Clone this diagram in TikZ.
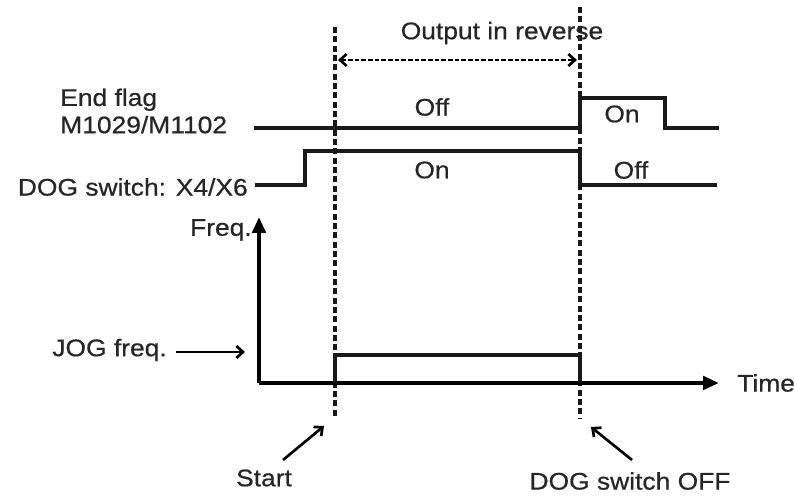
\documentclass[tikz,border=0pt]{standalone}
\usepackage{fontspec}
\setmainfont[FakeStretch=1.1,FakeBold=0.6]{Liberation Sans}
\usetikzlibrary{arrows.meta}
\begin{document}
\begin{tikzpicture}[x=0.75pt,y=-0.75pt,
  lbl/.style={inner sep=0pt,font=\fontsize{18}{20}\selectfont,text=black!85},
  sig/.style={line width=3pt,line join=miter,color=black!90},
  guide/.style={line width=2.6pt,dash pattern=on 4.5pt off 2.5pt,color=black!90},
  span/.style={line width=2pt,dash pattern=on 3.5pt off 1.5pt,{Straight Barb[length=5pt,width=9pt,line width=2pt]}-{Straight Barb[length=5pt,width=9pt,line width=2pt]}},
  ptr/.style={line width=2pt,-{Straight Barb[length=5pt,width=9pt,line width=2pt]}},
  axis/.style={line width=3pt,-{Triangle[length=12pt,width=10pt]}}]
\useasboundingbox (0,0) rectangle (794,498);

% guide lines
\coordinate (g1t) at (335,27); \coordinate (g1b) at (335,418);
\coordinate (g2t) at (580,7);  \coordinate (g2b) at (580,418);
\draw[guide] (g1t) -- (g1b);
\draw[guide] (g2t) -- (g2b);

% output in reverse
\node[lbl] (out) at (502,33) {Output in reverse};
\coordinate (sa) at (338,60); \coordinate (sb) at (577,60);
\draw[span] (sa) -- (sb);

% labels left
\node[lbl,anchor=west,align=left,font=\fontsize{18}{20.5}\selectfont] (endflag) at (60,111) {End flag\\M1029/M1102};
\node[lbl,anchor=east] (dogsw) at (248,187) {DOG switch: X4/X6};

% end flag waveform
\coordinate (e0) at (254,128); \coordinate (e1) at (580,128); \coordinate (e2) at (580,98);
\coordinate (e3) at (665,98); \coordinate (e4) at (665,128); \coordinate (e5) at (719,128);
\draw[sig] (e0) -- (e1) -- (e2) -- (e3) -- (e4) -- (e5);

% DOG waveform
\coordinate (d0) at (255,185); \coordinate (d1) at (305,185); \coordinate (d2) at (305,151);
\coordinate (d3) at (580,151); \coordinate (d4) at (580,185); \coordinate (d5) at (717,185);
\draw[sig] (d0) -- (d1) -- (d2) -- (d3) -- (d4) -- (d5);

\node[lbl] (off1) at (432,107) {Off};
\node[lbl] (on1) at (622,114) {On};
\node[lbl] (on2) at (432,170) {On};
\node[lbl] (off2) at (631,170) {Off};

% axes
\coordinate (o) at (259,383);
\coordinate (ytop) at (259,217);
\coordinate (xend) at (719,383);
\draw[axis] (o) -- (ytop);
\draw[axis] (o) -- (xend);
\node[lbl,anchor=east] (freq) at (252,230) {Freq.};
\node[lbl,anchor=west] (time) at (737,383) {Time};

% JOG pulse
\coordinate (j0) at (335,383); \coordinate (j1) at (335,355);
\coordinate (j2) at (580,355); \coordinate (j3) at (580,383);
\draw[sig,line width=2.6pt] (j0) -- (j1) -- (j2) -- (j3);

\node[lbl,anchor=east] (jog) at (167,350) {JOG freq.};
\coordinate (jt) at (245,352);
\draw[ptr] (jog.east) ++(9,2) coordinate (js) (js) -- (jt);

% bottom annotations
\node[lbl] (start) at (264,478) {Start};
\node[lbl] (dogoff) at (630,481) {DOG switch OFF};
\coordinate (st0) at (283,460); \coordinate (st1) at (324,426);
\coordinate (dt0) at (632,460); \coordinate (dt1) at (591,427);
\draw[ptr] (st0) -- (st1);
\draw[ptr] (dt0) -- (dt1);
\end{tikzpicture}
\end{document}
